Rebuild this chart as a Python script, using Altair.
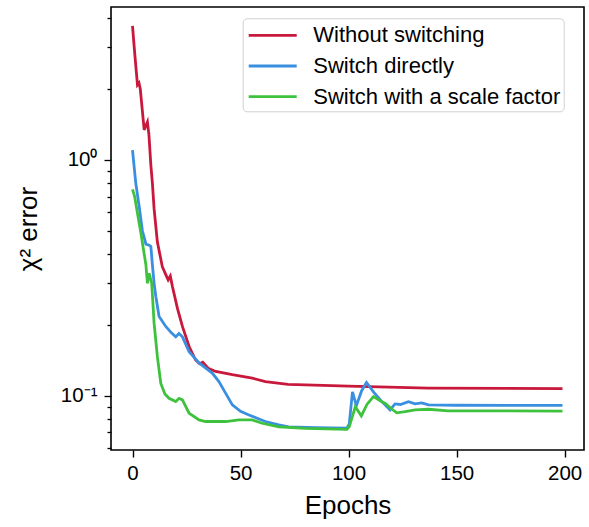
import altair as alt
import pandas as pd

series_names = ["Without switching", "Switch directly", "Switch with a scale factor"]
series_colors = ["#C8193C", "#3A8FE0", "#3EC23E"]

red_epochs = [0, 1, 2.3, 3.0, 3.6, 5.4, 6.2, 6.9, 7.6, 8.5, 9.2, 10, 11.5, 13.8, 15.5, 16.5,
              17.5, 18.5, 20.8, 23.1, 26.2, 29.2, 31, 32.5, 35, 38.5, 46.2, 55.4, 61.5, 72,
              100, 137, 199]
red_values = [3.70, 2.85, 2.08, 2.12, 2.00, 1.34, 1.40, 1.45, 1.28, 0.95, 0.80, 0.62, 0.45,
              0.353, 0.325, 0.31, 0.322, 0.29, 0.235, 0.197, 0.162, 0.142, 0.137, 0.139,
              0.131, 0.127, 0.123, 0.119, 0.115, 0.112, 0.110, 0.108, 0.1074]

blue_epochs = [0, 1.5, 3.1, 4.6, 5.4, 6.2, 7.7, 8.5, 9.2, 10, 10.8, 12.3, 15.4, 18, 20, 21.5,
               23.1, 26.2, 30.8, 36.9, 40, 43, 46.2, 50, 53.9, 61.5, 67.7, 72.3, 85, 99.2,
               100.3, 101.8, 103.6, 106, 108.3, 111.5, 115.4, 119.2, 121.5, 124, 127.7,
               130.8, 133.8, 137, 150, 199]
blue_values = [1.10, 0.80, 0.634, 0.50, 0.47, 0.44, 0.435, 0.43, 0.36, 0.30, 0.264, 0.217,
               0.197, 0.185, 0.178, 0.184, 0.178, 0.154, 0.138, 0.125, 0.115, 0.103, 0.0916,
               0.086, 0.083, 0.0779, 0.0754, 0.074, 0.0733, 0.073, 0.076, 0.104, 0.091, 0.105,
               0.114, 0.104, 0.0946, 0.0873, 0.0925, 0.092, 0.0946, 0.0925, 0.0935, 0.0916,
               0.0913, 0.0912]

green_epochs = [0, 1, 2.3, 3.9, 5.4, 6.2, 6.9, 7.7, 8.9, 9.2, 10, 11.5, 13.1, 15, 16.9, 20,
                21.5, 23.1, 26.2, 30.8, 33.8, 43.1, 49.2, 55.4, 60, 67.7, 80, 99.2, 100.3,
                103.1, 105.9, 108.5, 111.5, 115, 117, 120, 122.3, 126.2, 130.8, 137, 146, 199]
green_values = [0.751, 0.70, 0.594, 0.489, 0.40, 0.36, 0.30, 0.331, 0.30, 0.27, 0.203, 0.147,
                0.113, 0.102, 0.0977, 0.0946, 0.0977, 0.0962, 0.0845, 0.0791, 0.0779, 0.0779,
                0.0791, 0.0791, 0.0766, 0.074, 0.0728, 0.0722, 0.074, 0.090, 0.0823, 0.092,
                0.0993, 0.095, 0.093, 0.088, 0.0848, 0.0858, 0.0873, 0.0878, 0.0865, 0.0863]

x_ticks = [0, 50, 100, 150, 200]
y_ticks = [0.06, 0.07, 0.08, 0.09, 0.1, 0.2, 0.3, 0.4, 0.5, 0.6, 0.7, 0.8, 0.9, 1, 2, 3, 4]

rows = []
for name, ep, va in zip(series_names,
                        [red_epochs, blue_epochs, green_epochs],
                        [red_values, blue_values, green_values]):
    for e, v in zip(ep, va):
        rows.append({"series": name, "epoch": e, "value": v})
df = pd.DataFrame(rows)

FONT = "Liberation Sans"

color = alt.Color(
    "series:N",
    scale=alt.Scale(domain=series_names, range=series_colors),
    legend=alt.Legend(
        title=None,
        orient="none",
        legendX=131.7,
        legendY=11.3,
        symbolType="M-1.92,0H1.92",
        symbolSize=625,
        symbolStrokeWidth=2.8,
        symbolOffset=13,
        labelFont=FONT,
        labelFontSize=22,
        labelColor="black",
        labelOffset=26.6,
        rowPadding=5.7,
        padding=3,
        strokeColor="#d0d0d0",
        fillColor="white",
        cornerRadius=4,
        labelLimit=400,
    ),
)

x = alt.X(
    "epoch:Q",
    scale=alt.Scale(domain=[-9.95, 208.95], nice=False, zero=False),
    axis=alt.Axis(
        values=x_ticks,
        title="Epochs",
        titleFont=FONT,
        titleFontSize=26,
        titleFontWeight="normal",
        titleColor="black",
        titlePadding=9,
        labelFont=FONT,
        labelFontSize=20.5,
        labelColor="black",
        labelPadding=6,
        tickSize=7,
        tickWidth=1.4,
        tickColor="black",
        grid=False,
        domain=False,
    ),
)

y = alt.Y(
    "value:Q",
    scale=alt.Scale(type="log", domain=[0.059, 4.45], nice=False),
    axis=alt.Axis(
        values=y_ticks,
        title="χ² error",
        titleFont=FONT,
        titleFontSize=26,
        titleFontWeight="normal",
        titleColor="black",
        titlePadding=19,
        labelFont=FONT,
        labelFontSize=20.5,
        labelColor="black",
        labelPadding=7,
        labelExpr="datum.value == 1 ? '10⁰' : (abs(datum.value - 0.1) < 1e-9 ? '10⁻¹' : '')",
        tickSize={"condition": {"test": "datum.value == 1 || abs(datum.value - 0.1) < 1e-9", "value": 7}, "value": 4},
        tickWidth=1.3,
        tickColor="black",
        grid=False,
        domain=False,
    ),
)

base = alt.Chart(df).mark_line(strokeWidth=2.8, clip=True).encode(
    x=x, y=y, color=color, order="epoch:Q"
)

layers = [base.transform_filter(alt.datum.series == s) for s in series_names]

chart = alt.layer(*layers).properties(
    width=473,
    height=443,
    autosize=alt.AutoSizeParams(type="none"),
    padding={"left": 111, "top": 7, "right": 5, "bottom": 77},
).configure(
    background="white"
).configure_view(
    stroke="black", strokeWidth=1.6
)

chart.save("out.html", embed_options={"renderer": "svg", "actions": False})
